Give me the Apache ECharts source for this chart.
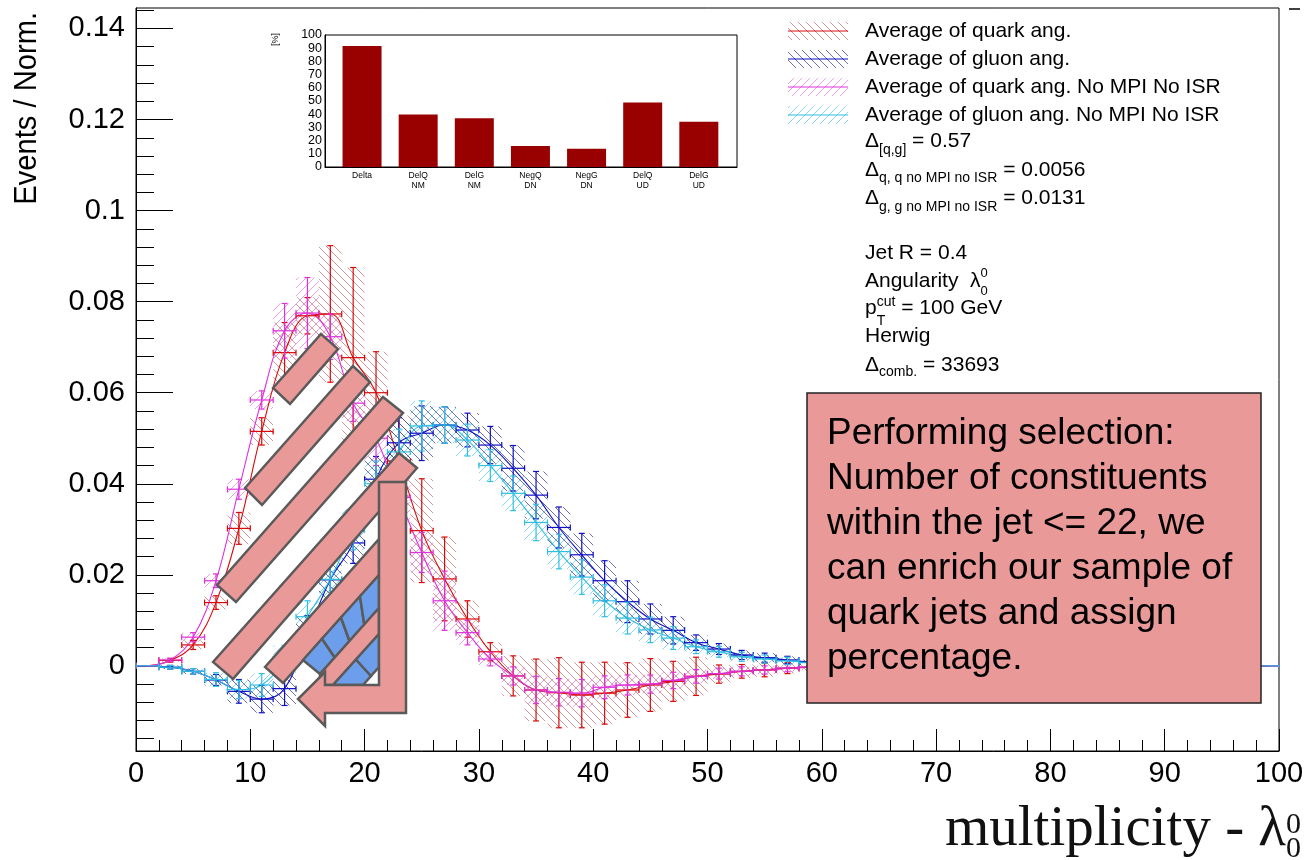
<!DOCTYPE html>
<html><head><meta charset="utf-8">
<script src="https://cdn.jsdelivr.net/npm/echarts@6/dist/echarts.min.js"></script>
<style>html,body{margin:0;padding:0;background:#fff}#c{width:1307px;height:860px}</style>
</head><body><div id="c"></div>
<script>
// ---------------- DATA ----------------
const binCenters = [1,3,5,7,9,11,13,15,17,19,21,23,25,27,29,31,33,35,37,39,41,43,45,47,49,51,53,55,57,59,61,63,65,67,69,71,73,75,77,79,81,83,85,87,89,91,93,95,97,99];
const binHalf = 1;
const quarkVal = [0,0.0012,0.0046,0.0139,0.0302,0.0515,0.0688,0.0769,0.0773,0.0677,0.0600,0.0450,0.0297,0.0191,0.0103,0.0031,-0.0022,-0.0053,-0.0059,-0.0064,-0.0060,-0.0053,-0.0042,-0.0034,-0.0023,-0.0018,-0.0012,-0.0009,-0.0005,-0.0003,-0.0002,-0.0002,-0.0001,-0.0001,-0.0001,0,0,0,0,0,0,0,0,0,0,0,0,0,0,0];
const quarkErr = [0,0.0004,0.0010,0.0015,0.0035,0.0030,0.0066,0.0040,0.0150,0.0198,0.0090,0.0100,0.0114,0.0092,0.0040,0.0020,0.0044,0.0068,0.0077,0.0072,0.0068,0.0060,0.0058,0.0044,0.0042,0.0020,0.0015,0.0015,0.0012,0.0010,0.0008,0.0006,0.0005,0.0004,0.0003,0.0002,0.0002,0.0002,0.0002,0.0002,0.0001,0.0001,0.0001,0.0001,0.0001,0.0001,0.0001,0.0001,0.0001,0.0001];
const quarkNoMpiVal = [0,0.0013,0.0063,0.0187,0.0388,0.0584,0.0736,0.0775,0.0723,0.0577,0.0500,0.0370,0.0249,0.0143,0.0073,0.0015,-0.0022,-0.0053,-0.0058,-0.0060,-0.0047,-0.0042,-0.0040,-0.0032,-0.0023,-0.0017,-0.0012,-0.0009,-0.0005,-0.0003,-0.0002,-0.0001,-0.0001,-0.0001,0,0,0,0,0,0,0,0,0,0,0,0,0,0,0,0];
const quarkNoMpiErr = [0,0.0004,0.0010,0.0015,0.0022,0.0020,0.0060,0.0078,0.0050,0.0040,0.0060,0.0050,0.0044,0.0065,0.0027,0.0015,0.0020,0.0030,0.0030,0.0030,0.0025,0.0022,0.0020,0.0018,0.0015,0.0012,0.0010,0.0009,0.0008,0.0006,0.0005,0.0004,0.0003,0.0003,0.0002,0.0001,0.0001,0.0001,0.0001,0.0001,0.0001,0.0001,0.0001,0.0001,0.0001,0.0001,0.0001,0.0001,0.0001,0.0001];
const gluonVal = [0,-0.0003,-0.0012,-0.0031,-0.0056,-0.0073,-0.0050,0.0070,0.0189,0.0270,0.0410,0.0490,0.0511,0.0529,0.0518,0.0485,0.0434,0.0375,0.0304,0.0244,0.0187,0.0141,0.0103,0.0078,0.0051,0.0037,0.0024,0.0018,0.0013,0.0008,0.0006,0.0005,0.0004,0.0003,0.0002,0.0002,0.0001,0.0001,0.0001,0.0001,0,0,0,0,0,0,0,0,0,0];
const gluonErr = [0,0.0004,0.0006,0.0012,0.0026,0.0030,0.0037,0.0040,0.0040,0.0045,0.0050,0.0055,0.0060,0.0040,0.0037,0.0041,0.0050,0.0052,0.0045,0.0047,0.0044,0.0046,0.0033,0.0030,0.0017,0.0012,0.0010,0.0010,0.0008,0.0006,0.0005,0.0004,0.0003,0.0003,0.0002,0.0002,0.0002,0.0002,0.0002,0.0002,0.0001,0.0001,0.0001,0.0001,0.0001,0.0001,0.0001,0.0001,0.0001,0.0001];
const gluonNoMpiVal = [0,-0.0003,-0.0012,-0.0030,-0.0052,-0.0042,0.0015,0.0108,0.0190,0.0300,0.0400,0.0470,0.0527,0.0529,0.0496,0.0440,0.0379,0.0315,0.0251,0.0195,0.0143,0.0105,0.0079,0.0061,0.0042,0.0031,0.0020,0.0015,0.0011,0.0007,0.0005,0.0004,0.0003,0.0002,0.0002,0.0001,0.0001,0.0001,0,0,0,0,0,0,0,0,0,0,0,0];
const gluonNoMpiErr = [0,0.0004,0.0006,0.0015,0.0020,0.0025,0.0030,0.0035,0.0040,0.0045,0.0050,0.0050,0.0055,0.0040,0.0035,0.0035,0.0038,0.0040,0.0038,0.0038,0.0035,0.0035,0.0028,0.0025,0.0015,0.0012,0.0010,0.0009,0.0008,0.0006,0.0005,0.0004,0.0003,0.0003,0.0002,0.0002,0.0002,0.0002,0.0002,0.0002,0.0001,0.0001,0.0001,0.0001,0.0001,0.0001,0.0001,0.0001,0.0001,0.0001];

const yMajorTicks = [0,0.02,0.04,0.06,0.08,0.1,0.12,0.14];
const yMinorTicks = [-0.016,-0.012,-0.008,-0.004,0.004,0.008,0.012,0.016,0.024,0.028,0.032,0.036,0.044,0.048,0.052,0.056,0.064,0.068,0.072,0.076,0.084,0.088,0.092,0.096,0.104,0.108,0.112,0.116,0.124,0.128,0.132,0.136,0.144];
const yMin = -0.0187, yMax = 0.1445;

const insetCats = ['Delta','DelQ\nNM','DelG\nNM','NegQ\nDN','NegG\nDN','DelQ\nUD','DelG\nUD'];
const insetVals = [91.6,39.7,37.0,16.0,13.9,48.9,34.2];

const legendNames = ['Average of quark ang.','Average of gluon ang.','Average of quark ang. No MPI No ISR','Average of gluon ang. No MPI No ISR'];
const boxLines = ['Performing selection:','Number of constituents','within the jet <= 22, we','can enrich our sample of','quark jets and assign','percentage.'];

// ---------------- STYLE HELPERS ----------------
const SANS = '"Liberation Sans", Arial, sans-serif';
const SERIF = '"Liberation Serif", "Times New Roman", serif';
function hatch(color, dir){
  const s = 8, cv = document.createElement('canvas'); cv.width = s; cv.height = s;
  const g = cv.getContext('2d'); g.strokeStyle = color; g.lineWidth = 1;
  g.beginPath();
  for (let k=-1;k<=1;k++){
    if (dir==='\\'){ g.moveTo(k*s,0); g.lineTo(k*s+s,s); }
    else { g.moveTo(k*s,s); g.lineTo(k*s+s,0); }
  }
  g.stroke();
  return {image: cv, repeat: 'repeat'};
}
const sets = [
  {val: quarkVal, err: quarkErr, color:'#d80a0a', hatch: hatch('rgba(185,80,80,0.6)','\\')},
  {val: gluonVal, err: gluonErr, color:'#1010c0', hatch: hatch('rgba(50,50,140,0.7)','\\')},
  {val: quarkNoMpiVal, err: quarkNoMpiErr, color:'#dd33dd', hatch: hatch('rgba(215,100,215,0.6)','/')},
  {val: gluonNoMpiVal, err: gluonNoMpiErr, color:'#30bfe0', hatch: hatch('rgba(90,195,235,0.7)','/')}
];

function bandRender(pattern){
  return function(params, api){
    const x = api.value(0), y = api.value(1), e = api.value(2);
    if (!(e > 0)) return null;
    const p1 = api.coord([x-binHalf, y+e]), p2 = api.coord([x+binHalf, y-e]);
    return {type:'rect', shape:{x:p1[0], y:p1[1], width:p2[0]-p1[0], height:p2[1]-p1[1]}, style:{fill:pattern}};
  };
}
function crossRender(color){
  return function(params, api){
    const x = api.value(0), y = api.value(1), e = api.value(2);
    const l = api.coord([x-binHalf,y]), r = api.coord([x+binHalf,y]);
    const t = api.coord([x,y+e]), b = api.coord([x,y-e]), c = api.coord([x,y]);
    const cap = 3;
    const st = () => ({stroke:color, lineWidth:1.2});
    const ch = [
      {type:'line', shape:{x1:l[0],y1:l[1],x2:r[0],y2:r[1]}, style:st()},
      {type:'line', shape:{x1:l[0],y1:l[1]-cap,x2:l[0],y2:l[1]+cap}, style:st()},
      {type:'line', shape:{x1:r[0],y1:r[1]-cap,x2:r[0],y2:r[1]+cap}, style:st()}
    ];
    if (b[1]-t[1] > 1){
      ch.push({type:'line', shape:{x1:c[0],y1:t[1],x2:c[0],y2:b[1]}, style:st()});
      ch.push({type:'line', shape:{x1:c[0]-cap,y1:t[1],x2:c[0]+cap,y2:t[1]}, style:st()});
      ch.push({type:'line', shape:{x1:c[0]-cap,y1:b[1],x2:c[0]+cap,y2:b[1]}, style:st()});
    }
    return {type:'group', children:ch};
  };
}

const series = [];
sets.forEach((s,i)=>{
  series.push({type:'custom', name:'band'+i, xAxisIndex:0, yAxisIndex:0, z:1, silent:true, clip:true,
    data: binCenters.map((x,k)=>[x, s.val[k], s.err[k]]), renderItem: bandRender(s.hatch)});
});
sets.forEach((s,i)=>{
  series.push({type:'line', name:'line'+i, xAxisIndex:0, yAxisIndex:0, z:2, silent:true, smooth:0.4, symbol:'none',
    data: binCenters.map((x,k)=>[x, s.val[k]]), lineStyle:{color:s.color, width:1.1}});
});
sets.forEach((s,i)=>{
  series.push({type:'custom', name:'err'+i, xAxisIndex:0, yAxisIndex:0, z:3, silent:true, clip:true,
    data: binCenters.map((x,k)=>[x, s.val[k], s.err[k]]), renderItem: crossRender(s.color)});
});
series.push({type:'bar', xAxisIndex:1, yAxisIndex:2, barWidth:39, silent:true,
  data: insetVals.map((v,i)=>[i,v]), itemStyle:{color:'#990000'}});

// ---------------- TEXT HELPERS ----------------
const mctx = document.createElement('canvas').getContext('2d');
function tw(t, size, fam){ mctx.font = size+'px '+fam; return mctx.measureText(t).width; }
function richLine(x, base, segs, fam, color, measureOnly){
  const els = []; let cx = x, prevX = x;
  segs.forEach(sg=>{
    const sx = sg.stack ? prevX : cx;
    els.push({type:'text', z:50, silent:true, style:{x:sx, y: base + (sg.dy||0) - 0.31*sg.s, text:sg.t,
      font: sg.s+'px '+fam, fill: color||'#000', verticalAlign:'middle', align:'left'}});
    const w = tw(sg.t, sg.s, fam);
    prevX = sx; cx = Math.max(cx, sx + w);
  });
  return measureOnly ? cx - x : els;
}

const graphics = [];
// legend
const legRows = [31, 59, 87, 115];
sets.forEach((s,i)=>{
  graphics.push({type:'rect', z:50, silent:true, shape:{x:788, y:legRows[i]-9, width:60, height:18}, style:{fill:s.hatch}});
  graphics.push({type:'line', z:50, silent:true, shape:{x1:788, y1:legRows[i], x2:848, y2:legRows[i]}, style:{stroke:s.color, lineWidth:1.2}});
  graphics.push(...richLine(865, legRows[i]+7, [{t:legendNames[i], s:21}], SANS));
});
graphics.push(...richLine(865, 148, [{t:'Δ',s:21},{t:'[q,g]',s:14,dy:6},{t:' = 0.57',s:21}], SANS));
graphics.push(...richLine(865, 176.5, [{t:'Δ',s:21},{t:'q, q no MPI no ISR',s:14,dy:6},{t:' = 0.0056',s:21}], SANS));
graphics.push(...richLine(865, 205, [{t:'Δ',s:21},{t:'g, g no MPI no ISR',s:14,dy:6},{t:' = 0.0131',s:21}], SANS));
graphics.push(...richLine(865, 260, [{t:'Jet R = 0.4',s:21}], SANS));
graphics.push(...richLine(865, 288, [{t:'Angularity  λ',s:21},{t:'0',s:13,dy:-11},{t:'0',s:13,dy:7,stack:true}], SANS));
graphics.push(...richLine(865, 315, [{t:'p',s:21},{t:'cut',s:14,dy:-9},{t:'T',s:14,dy:10,stack:true},{t:' = 100 GeV',s:21}], SANS));
graphics.push(...richLine(865, 343, [{t:'Herwig',s:21}], SANS));
graphics.push(...richLine(865, 371.5, [{t:'Δ',s:21},{t:'comb.',s:14,dy:5},{t:' = 33693',s:21}], SANS));

// axis titles
graphics.push({type:'text', z:50, silent:true, x:27, y:12, rotation:Math.PI/2, scaleX:0.94,
  style:{text:'Events / Norm.', font:'31px '+SANS, fill:'#000', align:'right', verticalAlign:'middle'}});
const xTitleSegs = [{t:'multiplicity - λ',s:57},{t:'0',s:30,dy:-14},{t:'0',s:30,dy:10,stack:true}];
const xTitleW = richLine(0, 0, xTitleSegs, SERIF, '#000', true);
graphics.push(...richLine(1301 - xTitleW, 848, xTitleSegs, SERIF, '#111'));

// inset axis title
graphics.push({type:'text', z:50, silent:true, x:276, y:33, rotation:Math.PI/2,
  style:{text:'[%]', font:'9px '+SANS, fill:'#000', align:'right', verticalAlign:'middle'}});

// small dash top-right
graphics.push({type:'line', z:50, silent:true, shape:{x1:1289,y1:9,x2:1300,y2:9}, style:{stroke:'#000', lineWidth:1.5}});

// ---- slide annotation overlay (decoration drawn over the plot) ----
const PINK = '#ea9999', GRAY = '#5a5a5a', BLUE = '#6d9eeb';
function poly(pts, fill, lw){ return {type:'polygon', z:100, silent:true, shape:{points:pts}, style:{fill:fill, stroke:GRAY, lineWidth:lw||2.5, lineJoin:'miter'}}; }
function lerp(a,b,t){ return [a[0]+(b[0]-a[0])*t, a[1]+(b[1]-a[1])*t]; }
function cells(a,b,c,d,n){
  const out=[];
  for(let k=0;k<n;k++){
    const t0=k/n, t1=(k+1)/n;
    out.push(poly([lerp(a,b,t0),lerp(a,b,t1),lerp(d,c,t1),lerp(d,c,t0)], BLUE, 2.5));
  }
  return out;
}
graphics.push(poly([[265,667],[379,539],[379,575],[283,683]], PINK));
graphics.push(...cells([303,660],[379,575],[379,608],[320,674],4));
graphics.push(poly([[320,674],[379,608],[379,634],[333,685],[320,685]], PINK));
graphics.push(...cells([333,685],[379,634],[379,667],[363,685],2));
graphics.push(poly([[273,388],[321,334],[338,349],[290,404]], PINK));
graphics.push(poly([[245,488],[353,366],[370,382],[262,505]], PINK));
graphics.push(poly([[217,585],[383,397],[403,413],[236,602]], PINK));
graphics.push(poly([[213,662],[399,453],[417,468],[233,679]], PINK));
graphics.push(poly([[379,482],[406,482],[406,713],[325,713],[325,726],[298,699],[325,672],[325,685],[379,685]], PINK));

// text box
graphics.push({type:'rect', z:100, silent:true, shape:{x:807, y:393, width:454, height:310}, style:{fill:PINK, stroke:'#222', lineWidth:1.5}});
graphics.push({type:'text', z:101, silent:true, style:{x:827, y:411, text:boxLines.join('\n'), font:'37px '+SANS, fill:'#000', lineHeight:45, verticalAlign:'top', align:'left'}});

// ---------------- CHART ----------------
const chart = echarts.init(document.getElementById('c'), null, {renderer:'canvas'});
const axisBlack = {color:'#000', width:1};
chart.setOption({
  animation:false,
  backgroundColor:'#fff',
  textStyle:{fontFamily:SANS},
  grid:[
    {left:136, top:8, width:1143, height:743, show:true, borderColor:'#000', borderWidth:1, backgroundColor:'transparent', outerBoundsMode:'none'},
    {left:325, top:35, width:412, height:132, show:true, borderColor:'#000', borderWidth:1, backgroundColor:'#fff', outerBoundsMode:'none'}
  ],
  xAxis:[
    {gridIndex:0, type:'value', min:0, max:100, interval:10,
      axisLine:{show:true, onZero:false, lineStyle:axisBlack},
      axisTick:{show:true, inside:true, length:22, lineStyle:axisBlack},
      minorTick:{show:true, splitNumber:5, length:11, lineStyle:axisBlack},
      axisLabel:{fontSize:29, color:'#000', margin:8, fontFamily:SANS},
      splitLine:{show:false}, minorSplitLine:{show:false}},
    {gridIndex:1, type:'value', min:-0.66, max:6.68,
      axisLine:{show:true, onZero:false, lineStyle:axisBlack},
      axisTick:{show:false},
      axisLabel:{customValues:[0,1,2,3,4,5,6], formatter:(v)=>insetCats[Math.round(v)], fontSize:8.5, lineHeight:10.5, color:'#000', margin:3, verticalAlign:'top', fontFamily:SANS},
      splitLine:{show:false}}
  ],
  yAxis:[
    {gridIndex:0, type:'value', min:yMin, max:yMax, position:'left',
      axisLine:{show:true, onZero:false, lineStyle:axisBlack},
      axisTick:{show:true, inside:true, length:37, customValues:yMajorTicks, lineStyle:axisBlack},
      axisLabel:{customValues:yMajorTicks, formatter:(v)=>String(parseFloat(v.toFixed(3))), fontSize:29, color:'#000', margin:11, fontFamily:SANS},
      splitLine:{show:false}},
    {gridIndex:0, type:'value', min:yMin, max:yMax, position:'left',
      axisLine:{show:false, onZero:false},
      axisTick:{show:true, inside:true, length:18, customValues:yMinorTicks, lineStyle:axisBlack},
      axisLabel:{show:false}, splitLine:{show:false}},
    {gridIndex:1, type:'value', min:0, max:100, interval:10,
      axisLine:{show:true, onZero:false, lineStyle:axisBlack},
      axisTick:{show:false},
      axisLabel:{fontSize:12.5, color:'#000', margin:3, fontFamily:SANS},
      splitLine:{show:false}}
  ],
  series: series,
  graphic: graphics
});
</script>
</body></html>
